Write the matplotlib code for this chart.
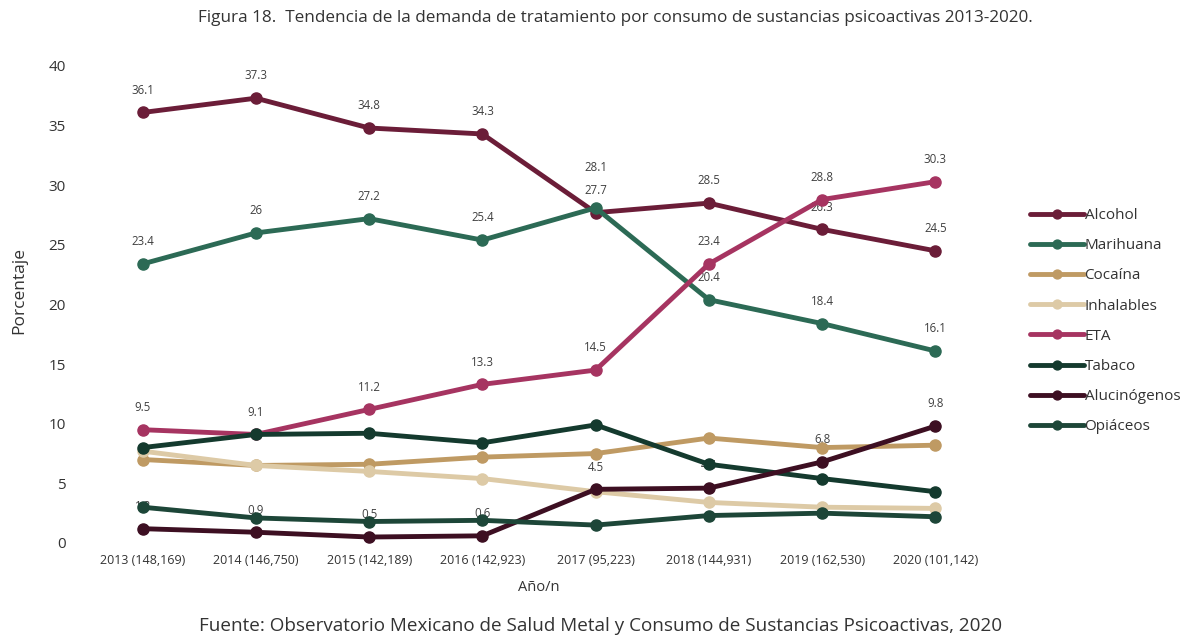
import matplotlib
matplotlib.use("Agg")
import matplotlib.pyplot as plt

years = ["2013 (148,169)", "2014 (146,750)", "2015 (142,189)", "2016 (142,923)",
         "2017 (95,223)", "2018 (144,931)", "2019 (162,530)", "2020 (101,142)"]

alcohol = [36.1, 37.3, 34.8, 34.3, 27.7, 28.5, 26.3, 24.5]
marihuana = [23.4, 26.0, 27.2, 25.4, 28.1, 20.4, 18.4, 16.1]
cocaina = [7.0, 6.5, 6.6, 7.2, 7.5, 8.8, 8.0, 8.2]
inhalables = [7.7, 6.5, 6.0, 5.4, 4.3, 3.4, 3.0, 2.9]
eta = [9.5, 9.1, 11.2, 13.3, 14.5, 23.4, 28.8, 30.3]
tabaco = [8.0, 9.1, 9.2, 8.4, 9.9, 6.6, 5.4, 4.3]
alucinogenos = [1.2, 0.9, 0.5, 0.6, 4.5, 4.6, 6.8, 9.8]
opiaceos = [3.0, 2.1, 1.8, 1.9, 1.5, 2.3, 2.5, 2.2]

series = [
    ("Alcohol", alcohol, "#6b1d38", True),
    ("Marihuana", marihuana, "#2c6a55", True),
    ("Cocaína", cocaina, "#bf9a63", False),
    ("Inhalables", inhalables, "#ddcaa6", False),
    ("ETA", eta, "#a63461", True),
    ("Tabaco", tabaco, "#143a2e", False),
    ("Alucinógenos", alucinogenos, "#3d0f22", True),
    ("Opiáceos", opiaceos, "#1d4638", False),
]

plt.rcParams['font.family'] = ['Open Sans', 'DejaVu Sans']

fig = plt.figure(figsize=(12.01, 6.37), dpi=100)
ax = fig.add_axes([0.0716, 0.1476, 0.7544, 0.7488])

x = list(range(len(years)))
extra = {("Marihuana", 4): 13}

for i, (name, vals, col, lab) in enumerate(series):
    ax.plot(x, vals, color=col, lw=3.5, marker='o', ms=8, label=name,
            zorder=3 + i, solid_capstyle='round')
    if lab:
        for xi, v in zip(x, vals):
            off = 16 + extra.get((name, xi), 0)
            txt = f"{v:g}"
            ax.annotate(txt, (xi, v), xytext=(0, off), textcoords='offset points',
                        ha='center', va='center', fontsize=8.3, color='#404040', zorder=1)

ax.set_xlim(-0.5, len(years) - 0.5)
ax.set_ylim(0, 40)
ax.set_yticks(range(0, 41, 5))
ax.set_xticks(x)
ax.set_xticklabels(years, fontsize=9, color='#333333')
ax.tick_params(axis='y', labelsize=11, colors='#333333', length=0, pad=14.5)
ax.tick_params(axis='x', length=0, pad=8)
for s in ax.spines.values():
    s.set_visible(False)

ax.set_xlabel("Año/n", fontsize=10.5, color='#333333', labelpad=9)
ax.set_ylabel("Porcentaje", fontsize=12.5, color='#333333')
ax.yaxis.set_label_coords(-0.065, 0.53)

leg = fig.legend(loc='upper left', bbox_to_anchor=(0.8464, 0.6947), frameon=False,
                 fontsize=11, handlelength=3.5, handletextpad=0.05, labelspacing=0.99,
                 markerscale=0.8)
for t in leg.get_texts():
    t.set_color('#333333')

fig.text(0.512, 0.972, "Figura 18.  Tendencia de la demanda de tratamiento por consumo de sustancias psicoactivas 2013-2020.",
         ha='center', va='center', fontsize=12.3, color='#333333')
fig.text(0.5, 0.003, "Fuente: Observatorio Mexicano de Salud Metal y Consumo de Sustancias Psicoactivas, 2020",
         ha='center', va='bottom', fontsize=13.6, color='#333333')

fig.savefig("out.png", dpi=100, facecolor='white')
